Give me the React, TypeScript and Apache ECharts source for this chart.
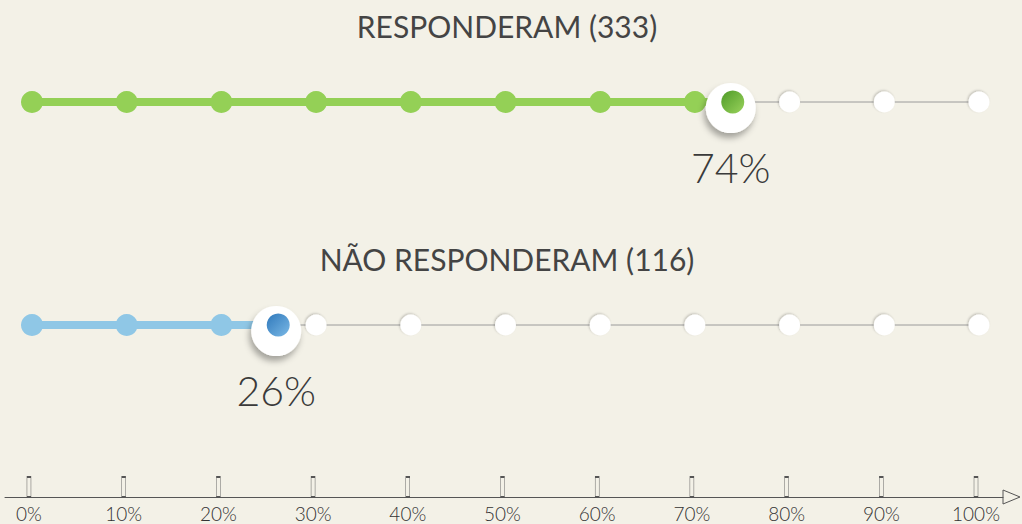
import React, { useEffect, useRef } from "react";
import * as echarts from "echarts";

// ---- data ----
const ROW_TITLES = ["RESPONDERAM (333)", "NÃO RESPONDERAM (116)"];
const PERCENTS = [74, 26];
const TICKS = [0, 10, 20, 30, 40, 50, 60, 70, 80, 90, 100];
const TICK_LABELS = ["0%", "10%", "20%", "30%", "40%", "50%", "60%", "70%", "80%", "90%", "100%"];

// ---- styles ----
const BG = "#f3f1e7";
const LIGHT = ["#94d056", "#8fc7e6"];
const DARK_FROM = ["#4e9a28", "#2f78bb"];
const DARK_TO = ["#9ad35c", "#7bb9e6"];
const ROW_CENTER = [102, 325];
const TITLE_TOP = [6, 239];
const FONT = "Lato, 'Open Sans', sans-serif";

export default function App() {
  const ref = useRef<HTMLDivElement>(null);
  useEffect(() => {
    const chart = echarts.init(ref.current!, null, { renderer: "svg" });
    const grids: any[] = [];
    const xAxes: any[] = [];
    const yAxes: any[] = [];
    const series: any[] = [];
    const titles: any[] = [];

    ROW_TITLES.forEach((t, i) => {
      const p = PERCENTS[i];
      grids.push({ left: 32, right: 43, top: ROW_CENTER[i] - 20, height: 40 });
      xAxes.push({ type: "value", gridIndex: i, min: 0, max: 100, show: false });
      yAxes.push({ type: "value", gridIndex: i, min: -1, max: 1, show: false });
      titles.push({
        text: t,
        left: 502,
        top: TITLE_TOP[i],
        textAlign: "center",
        textStyle: { fontFamily: FONT, fontSize: 30, fontWeight: "normal", color: "#444444" },
      });
      series.push({
        type: "line",
        xAxisIndex: i,
        yAxisIndex: i,
        data: [[0, 0], [100, 0]],
        symbol: "none",
        silent: true,
        lineStyle: { color: "#9a9a9a", width: 1 },
        z: 1,
      });
      series.push({
        type: "line",
        xAxisIndex: i,
        yAxisIndex: i,
        data: [[0, 0], [p, 0]],
        symbol: "none",
        silent: true,
        lineStyle: { color: LIGHT[i], width: 8 },
        z: 2,
      });
      series.push({
        type: "scatter",
        xAxisIndex: i,
        yAxisIndex: i,
        data: TICKS.filter((v) => v < p).map((v) => [v, 0]),
        symbolSize: 22,
        silent: true,
        itemStyle: { color: LIGHT[i], opacity: 1 },
        z: 3,
      });
      series.push({
        type: "scatter",
        xAxisIndex: i,
        yAxisIndex: i,
        data: TICKS.filter((v) => v > p).map((v) => [v, 0]),
        symbolSize: 21,
        silent: true,
        itemStyle: {
          color: "#ffffff",
          opacity: 1,
          shadowColor: "rgba(0,0,0,0.22)",
          shadowBlur: 2,
          shadowOffsetX: -1,
          shadowOffsetY: -1,
        },
        z: 3,
      });
      series.push({
        type: "scatter",
        xAxisIndex: i,
        yAxisIndex: i,
        data: [[p, 0]],
        symbolSize: 50,
        symbolOffset: [-2, 6],
        silent: true,
        itemStyle: {
          color: "#ffffff",
          opacity: 1,
          shadowColor: "rgba(0,0,0,0.32)",
          shadowBlur: 6,
          shadowOffsetX: -2,
          shadowOffsetY: 5,
        },
        label: {
          show: true,
          position: "bottom",
          distance: 14,
          formatter: `${p}%`,
          fontFamily: FONT,
          fontWeight: 300,
          fontSize: 41,
          color: "#3a3a3a",
        },
        z: 4,
      });
      series.push({
        type: "scatter",
        xAxisIndex: i,
        yAxisIndex: i,
        data: [[p, 0]],
        symbolSize: 23,
        silent: true,
        itemStyle: {
          opacity: 1,
          color: new echarts.graphic.LinearGradient(0, 0, 1, 1, [
            { offset: 0, color: DARK_FROM[i] },
            { offset: 1, color: DARK_TO[i] },
          ]),
        },
        z: 5,
      });
    });

    // bottom axis
    grids.push({ left: 5, right: 19, top: 467, height: 30 });
    xAxes.push({
      type: "value",
      gridIndex: 2,
      min: -2.53,
      max: 102.85,
      axisLine: { show: true, lineStyle: { color: "#555", width: 1 } },
      axisTick: { show: false },
      splitLine: { show: false },
      axisLabel: {
        customValues: TICKS,
        formatter: (v: number) => TICK_LABELS[TICKS.indexOf(v)] ?? "",
        fontFamily: FONT,
        fontWeight: 300,
        fontSize: 19,
        color: "#333",
        margin: 7,
      },
    });
    yAxes.push({ type: "value", gridIndex: 2, min: 0, max: 1, show: false });
    series.push({
      type: "scatter",
      xAxisIndex: 2,
      yAxisIndex: 2,
      data: TICKS.map((v) => [v, 0]),
      symbol: "rect",
      symbolSize: [4, 20],
      symbolOffset: [0, -10],
      silent: true,
      clip: false,
      itemStyle: { color: BG, borderColor: "#555", borderWidth: 1, opacity: 1 },
      z: 3,
    });

    chart.setOption({
      animation: false,
      backgroundColor: BG,
      title: titles,
      grid: grids,
      xAxis: xAxes,
      yAxis: yAxes,
      series,
      graphic: [
        {
          type: "polygon",
          shape: { points: [[1003, 490], [1020, 497], [1003, 504]] },
          style: { fill: BG, stroke: "#555", lineWidth: 1 },
        },
      ],
    });
    return () => chart.dispose();
  }, []);
  return (
    <div
      ref={ref}
      style={{ position: "fixed", left: 0, top: 0, width: 1022, height: 524 }}
    />
  );
}
